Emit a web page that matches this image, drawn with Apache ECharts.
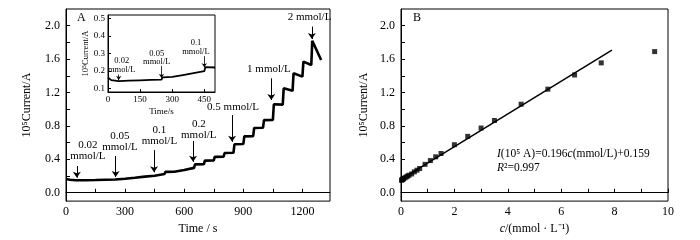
<!DOCTYPE html>
<html>
<head>
<meta charset="utf-8">
<script src="https://cdn.jsdelivr.net/npm/echarts@6/dist/echarts.min.js"></script>
<style>
  html, body { margin: 0; padding: 0; background: #fff; }
  #chart { width: 700px; height: 240px; }
</style>
</head>
<body>
<div id="chart"></div>
<script>
  // 图A：计时电流曲线 (time / s, 10^5 current / A)
  const timeA = [0, 20, 50, 100, 150, 200, 250, 255, 300, 305, 350, 355, 400, 405, 450, 455,
    500, 505, 550, 555, 600, 605, 650, 655, 700, 705, 750, 755, 800, 805, 850, 855,
    900, 905, 950, 955, 1000, 1005, 1050, 1055, 1100, 1105, 1150, 1155, 1200, 1205,
    1245, 1250, 1295];
  const currentA = [0.165, 0.155, 0.15, 0.15, 0.152, 0.155, 0.158, 0.165, 0.168, 0.178, 0.18, 0.19, 0.193, 0.2, 0.203, 0.222,
    0.225, 0.25, 0.252, 0.27, 0.273, 0.295, 0.298, 0.34, 0.343, 0.385, 0.388, 0.43, 0.433, 0.475, 0.478, 0.58,
    0.583, 0.675, 0.678, 0.775, 0.778, 0.87, 0.873, 1.06, 1.055, 1.25, 1.22, 1.43, 1.39, 1.57,
    1.53, 1.82, 1.59];

  // 插图：前500 s
  const timeInset = [0, 15, 50, 100, 150, 200, 250, 255, 300, 305, 350, 355, 400, 405, 450, 455, 500];
  const currentInset = [0.163, 0.148, 0.142, 0.145, 0.147, 0.149, 0.151, 0.164, 0.166, 0.175, 0.177, 0.186, 0.188, 0.197, 0.199, 0.222, 0.22];

  // 图B：校准曲线
  const concB = [0.02, 0.04, 0.06, 0.08, 0.1, 0.15, 0.2, 0.25, 0.3, 0.4, 0.5, 0.6, 0.7, 0.9, 1.1, 1.3, 1.5,
    2.0, 2.5, 3.0, 3.5, 4.5, 5.5, 6.5, 7.5, 9.5];
  const currentB = [0.15, 0.155, 0.16, 0.165, 0.17, 0.18, 0.19, 0.2, 0.21, 0.225, 0.25, 0.27, 0.29, 0.34, 0.385, 0.43, 0.47,
    0.575, 0.675, 0.775, 0.865, 1.06, 1.24, 1.41, 1.555, 1.69];
  const fitSlope = 0.196;
  const fitIntercept = 0.159;
  const fitRange = [0, 7.9];

  // 刻度
  const yTickLabels = [0, 0.4, 0.8, 1.2, 1.6, 2.0];
  const yTicks = [0, 0.2, 0.4, 0.6, 0.8, 1.0, 1.2, 1.4, 1.6, 1.8, 2.0];
  const xTickLabelsA = [0, 300, 600, 900, 1200];
  const xTicksA = [0, 150, 300, 450, 600, 750, 900, 1050, 1200];
  const xTickLabelsB = [0, 2, 4, 6, 8, 10];
  const xTicksB = [0, 1, 2, 3, 4, 5, 6, 7, 8, 9, 10];
  const xTickLabelsInset = [0, 150, 300, 450];
  const yTickLabelsInset = [0.1, 0.2, 0.3, 0.4, 0.5];

  // 标注（浓度 + 箭头）
  const annLabel = ['0.02\nmmol/L', '0.05\nmmol/L', '0.1\nmmol/L', '0.2\nmmol/L', '0.5 mmol/L', '1 mmol/L', '2 mmol/L'];
  const annArrowT = [55, 252, 447, 645, 843, 1042, 1248];
  const annArrowTop = [0.32, 0.44, 0.51, 0.62, 0.93, 1.37, 1.99];
  const annArrowTip = [0.18, 0.19, 0.245, 0.37, 0.61, 1.11, 1.84];
  const annTextT = [111, 274, 474, 674, 848, 1030, 1236];
  const annTextY = [0.50, 0.61, 0.68, 0.75, 1.025, 1.48, 2.105];

  const insetLabel = ['0.02\nmmol/L', '0.05\nmmol/L', '0.1\nmmol/L'];
  const insetArrowT = [50, 250, 450];
  const insetArrowTop = [0.18, 0.228, 0.285];
  const insetArrowTip = [0.148, 0.16, 0.221];
  const insetTextT = [64, 228, 411];
  const insetTextY = [0.232, 0.276, 0.335];

  const font = 'Liberation Serif';
  const black = '#000';

  const zip = (a, b) => a.map((v, i) => [v, b[i]]);
  const plain = v => String(v);
  const oneDec = v => v.toFixed(1);

  function arrows(ts, tops, tips) {
    return ts.map((t, i) => [{coord: [t, tops[i]]}, {coord: [t, tips[i]]}]);
  }
  function texts(ts, ys, labels, size) {
    return ts.map((t, i) => ({
      coord: [t, ys[i]],
      label: {formatter: labels[i], fontSize: size, lineHeight: size}
    }));
  }

  function valueAxis(opt) {
    return Object.assign({
      type: 'value',
      axisLine: {show: true, lineStyle: {color: black, width: 1}},
      splitLine: {show: false},
      nameTextStyle: {color: black, fontFamily: font, fontSize: 12},
      nameLocation: 'middle'
    }, opt);
  }
  function labels(values, size, margin, fmt) {
    return {color: black, fontFamily: font, fontSize: size, margin: margin, customValues: values, formatter: fmt};
  }
  function ticks(values, len) {
    return {show: true, inside: true, length: len, lineStyle: {color: black}, customValues: values};
  }

  const chart = echarts.init(document.getElementById('chart'));
  const option = {
    animation: false,
    backgroundColor: '#fff',
    grid: [
      {left: 66, top: 9, width: 264, height: 193, show: true, borderColor: black, borderWidth: 1},
      {left: 401, top: 9, width: 267, height: 193, show: true, borderColor: black, borderWidth: 1},
      {left: 108, top: 15, width: 107, height: 77, show: true, borderColor: black, borderWidth: 1, backgroundColor: '#fff', z: 5}
    ],
    xAxis: [
      valueAxis({gridIndex: 0, min: 0, max: 1340, name: 'Time / s', nameGap: 20,
        axisLabel: labels(xTickLabelsA, 12, 5, plain), axisTick: ticks(xTicksA, 4)}),
      valueAxis({gridIndex: 1, min: 0, max: 10, nameGap: 20,
        name: '{i|c}/(mmol · L⁻¹)',
        nameTextStyle: {color: black, fontFamily: font, fontSize: 12,
          rich: {i: {fontStyle: 'italic', fontFamily: font, fontSize: 12, color: black}}},
        axisLabel: labels(xTickLabelsB, 12, 5, plain), axisTick: ticks(xTicksB, 4)}),
      valueAxis({gridIndex: 2, min: 0, max: 500, name: 'Time/s', nameGap: 15, z: 6,
        nameTextStyle: {color: black, fontFamily: font, fontSize: 9},
        axisLabel: labels(xTickLabelsInset, 9, 3, plain), axisTick: ticks(xTickLabelsInset, 3)})
    ],
    yAxis: [
      valueAxis({gridIndex: 0, min: -0.1, max: 2.2, name: '10⁵Current/A', nameGap: 33,
        axisLabel: labels(yTickLabels, 12, 6, oneDec), axisTick: ticks(yTicks, 4)}),
      valueAxis({gridIndex: 1, min: -0.1, max: 2.2, name: '10⁵Current/A', nameGap: 31,
        axisLabel: labels(yTickLabels, 12, 6, oneDec), axisTick: ticks(yTicks, 4)}),
      valueAxis({gridIndex: 2, min: 0.08, max: 0.52, name: '10⁵Current/A', nameGap: 18, z: 6,
        nameTextStyle: {color: black, fontFamily: font, fontSize: 8.5},
        axisLabel: labels(yTickLabelsInset, 9, 3, oneDec), axisTick: ticks(yTickLabelsInset, 3)})
    ],
    series: [
      {
        type: 'line', xAxisIndex: 0, yAxisIndex: 0,
        data: zip(timeA, currentA),
        showSymbol: false, lineStyle: {color: black, width: 2.6}, z: 3,
        markLine: {
          silent: true, symbol: ['none', 'arrow'], symbolSize: 6,
          lineStyle: {color: black, width: 1, type: 'solid'},
          label: {show: false},
          data: arrows(annArrowT, annArrowTop, annArrowTip)
        },
        markPoint: {
          silent: true, symbol: 'circle', symbolSize: 0,
          label: {show: true, position: 'inside', color: black, fontFamily: font, align: 'center'},
          data: texts(annTextT, annTextY, annLabel, 11)
        }
      },
      {
        type: 'line', xAxisIndex: 1, yAxisIndex: 1,
        data: fitRange.map(c => [c, fitIntercept + fitSlope * c]),
        showSymbol: false, lineStyle: {color: black, width: 1.5}
      },
      {
        type: 'scatter', xAxisIndex: 1, yAxisIndex: 1,
        data: zip(concB, currentB),
        symbol: 'rect', symbolSize: 5, itemStyle: {color: black}
      },
      {
        type: 'line', xAxisIndex: 2, yAxisIndex: 2, z: 7,
        data: zip(timeInset, currentInset),
        showSymbol: false, lineStyle: {color: black, width: 1.8},
        markLine: {
          silent: true, symbol: ['none', 'arrow'], symbolSize: 4,
          lineStyle: {color: black, width: 0.8, type: 'solid'},
          label: {show: false},
          data: arrows(insetArrowT, insetArrowTop, insetArrowTip)
        },
        markPoint: {
          silent: true, symbol: 'circle', symbolSize: 0,
          label: {show: true, position: 'inside', color: black, fontFamily: font, align: 'center'},
          data: texts(insetTextT, insetTextY, insetLabel, 8.5)
        }
      }
    ],
    graphic: [
      {type: 'text', left: 77, top: 12, style: {text: 'A', font: '12px "Liberation Serif"', fill: black}},
      {type: 'text', left: 413, top: 12, style: {text: 'B', font: '12px "Liberation Serif"', fill: black}},
      {type: 'text', left: 497, top: 148, style: {
        text: '{i|I}(10⁵ A)=0.196{i|c}(mmol/L)+0.159',
        font: '11.5px "Liberation Serif"', fill: black,
        rich: {i: {fontStyle: 'italic', fontFamily: font, fontSize: 11.5, fill: black}}
      }},
      {type: 'text', left: 497, top: 162, style: {
        text: '{i|R}²=0.997',
        font: '11.5px "Liberation Serif"', fill: black,
        rich: {i: {fontStyle: 'italic', fontFamily: font, fontSize: 11.5, fill: black}}
      }}
    ]
  };
  chart.setOption(option);
</script>
</body>
</html>
